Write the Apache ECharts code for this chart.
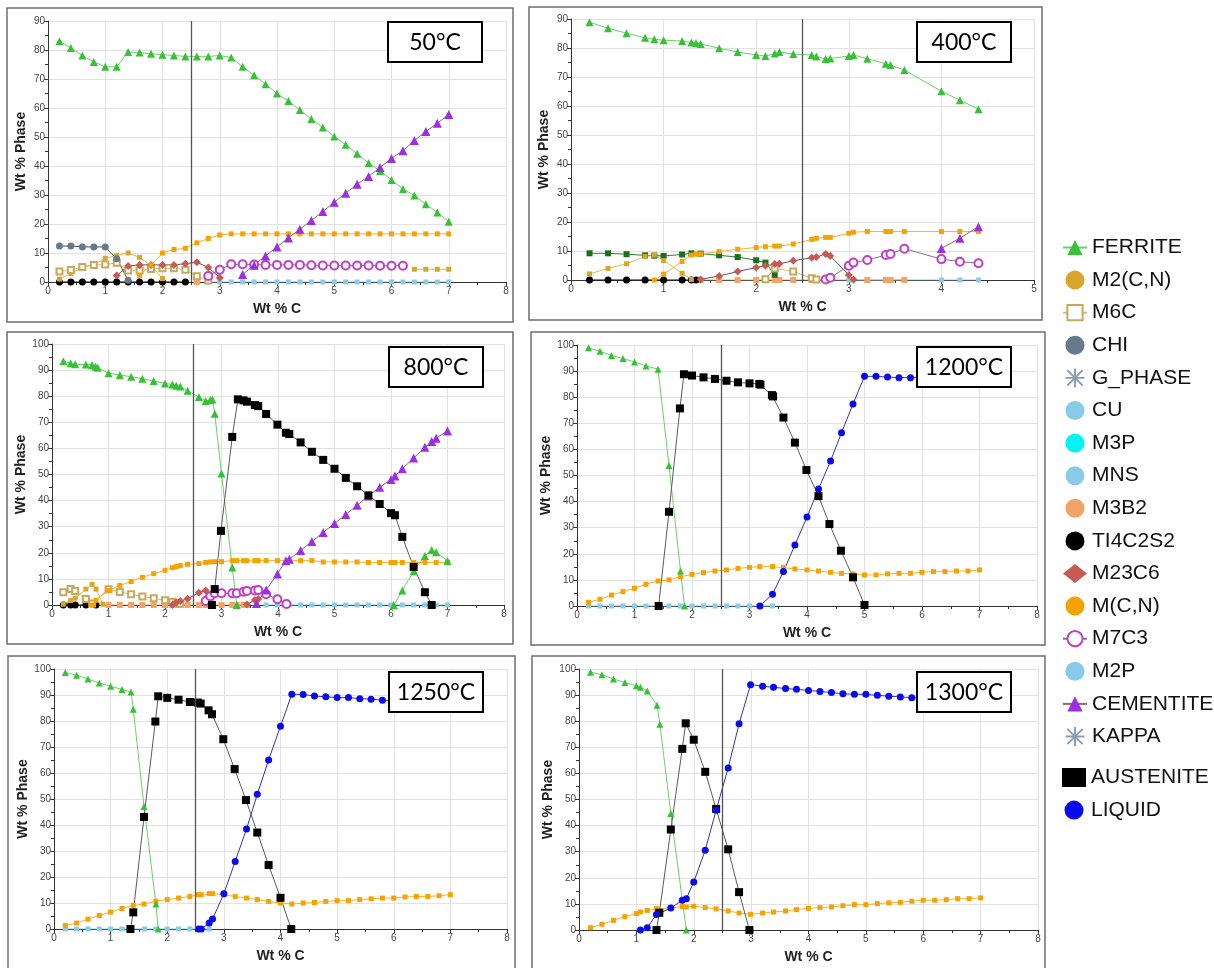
<!DOCTYPE html>
<html>
<head>
<meta charset="utf-8">
<script src="https://cdn.jsdelivr.net/npm/echarts/dist/echarts.min.js"></script>
<style>
  html, body { margin: 0; padding: 0; background: #fff; }
  #chart { width: 1214px; height: 968px; }
</style>
</head>
<body>
<div id="chart"></div>
<script>
// ---------- phase fractions (Wt % phase vs Wt % C) ----------

// 50 °C
const ferrite50 = [[0.2,83.0],[0.4,80.7],[0.6,78.1],[0.8,75.9],[1.0,74.2],[1.2,74.2],[1.4,79.3],[1.6,79.1],[1.8,78.7],[2.0,78.4],[2.2,78.1],[2.4,77.8],[2.6,77.8],[2.8,77.8],[3.0,78.1],[3.2,77.4],[3.4,74.2],[3.6,71.3],[3.8,68.2],[4.0,65.0],[4.2,62.4],[4.4,59.3],[4.6,56.2],[4.8,53.3],[5.0,50.2],[5.2,47.3],[5.4,44.2],[5.6,41.0],[5.8,38.3],[6.0,35.2],[6.2,32.1],[6.4,29.8],[6.6,26.8],[6.8,24.0],[7.0,20.8]];
const cementite50 = [[3.4,2.6],[3.6,5.8],[3.8,9.0],[4.0,12.1],[4.2,15.2],[4.4,18.2],[4.6,21.2],[4.8,24.3],[5.0,27.5],[5.2,30.6],[5.4,33.7],[5.6,36.4],[5.8,39.5],[6.0,42.6],[6.2,45.3],[6.4,48.8],[6.6,51.9],[6.8,54.7],[7.0,57.8]];
const mcn50 = [[1.6,2.3],[1.8,5.9],[2.0,10.0],[2.2,11.2],[2.4,11.6],[2.6,13.5],[2.8,15.0],[3.0,16.2],[3.2,16.6],[3.4,16.6],[3.6,16.6],[3.8,16.6],[4.0,16.6],[4.2,16.6],[4.4,16.6],[4.6,16.6],[4.8,16.6],[5.0,16.6],[5.2,16.6],[5.4,16.6],[5.6,16.6],[5.8,16.6],[6.0,16.6],[6.2,16.6],[6.4,16.6],[6.6,16.6],[6.8,16.6],[7.0,16.6]];
const m2cn50 = [[0.2,1.0],[0.4,2.9],[0.6,5.0],[0.8,6.0],[1.0,8.2],[1.2,9.1],[1.4,10.0],[1.6,8.5],[1.8,5.6],[2.0,1.2]];
const m2cn50b = [[6.4,4.4],[6.6,4.4],[6.8,4.4],[7.0,4.4]];
const m6c50 = [[0.2,3.6],[0.4,4.1],[0.6,5.2],[0.8,5.9],[1.0,6.0],[1.2,6.6],[1.4,4.0],[1.6,4.0],[1.8,4.5],[2.0,4.7],[2.2,4.7],[2.4,4.2],[2.6,2.0],[2.8,0.5]];
const chi50 = [[0.2,12.4],[0.4,12.4],[0.6,12.1],[0.8,12.1],[1.0,12.1],[1.2,8.0],[1.4,0.6]];
const m23c6_50 = [[1.2,2.2],[1.4,5.5],[1.6,5.9],[1.8,5.9],[2.0,5.9],[2.2,5.9],[2.4,6.3],[2.6,6.8],[2.8,5.0],[3.0,1.5]];
const m7c3_50 = [[2.8,2.1],[3.0,4.2],[3.2,6.1],[3.4,6.1],[3.6,6.0],[3.8,5.9],[4.0,5.9],[4.2,5.9],[4.4,5.9],[4.6,5.8],[4.8,5.7],[5.0,5.7],[5.2,5.7],[5.4,5.7],[5.6,5.7],[5.8,5.6],[6.0,5.6],[6.2,5.6]];
const ti50x = [0.2,0.4,0.6,0.8,1.0,1.2,1.4,1.6,1.8,2.0,2.2,2.4];
const m3b2_50x = [2.6];
const mns50x = [2.8,3.0,3.2,3.4,3.6,3.8,4.0,4.2,4.4,4.6,4.8,5.0,5.2,5.4,5.6,5.8,6.0,6.2,6.4,6.6,6.8,7.0];

// 400 °C
const ferrite400 = [[0.2,88.9],[0.4,86.8],[0.6,85.1],[0.8,83.5],[0.9,83.0],[1.0,82.7],[1.2,82.4],[1.3,81.9],[1.35,81.7],[1.4,81.4],[1.6,79.9],[1.8,78.6],[2.0,77.6],[2.1,77.2],[2.2,78.1],[2.25,78.6],[2.4,77.9],[2.6,77.6],[2.65,77.1],[2.75,76.2],[2.8,76.4],[3.0,77.2],[3.05,77.6],[3.2,76.3],[3.4,74.6],[3.45,74.1],[3.6,72.4],[4.0,65.1],[4.2,62.0],[4.4,58.9]];
const m2cn400 = [[0.2,2.1],[0.4,4.0],[0.6,5.6],[0.8,8.1],[0.9,8.6],[1.0,6.7],[1.2,2.3],[1.3,0.2]];
const mcn400 = [[0.9,0],[1.0,2.0],[1.2,6.4],[1.3,8.6],[1.35,8.9],[1.4,9.0],[1.6,9.8],[1.8,10.6],[2.0,11.2],[2.1,11.5],[2.2,11.7],[2.25,11.7],[2.4,12.4],[2.6,14.0],[2.65,14.4],[2.75,14.7],[2.8,14.7],[3.0,16.1],[3.05,16.5],[3.2,16.7],[3.4,16.7],[3.45,16.7],[3.6,16.7],[4.0,16.7],[4.2,16.7],[4.4,16.7]];
const other400 = [[0.2,9.2],[0.4,9.2],[0.6,8.9],[0.8,8.5],[0.9,8.4],[1.0,8.3],[1.2,8.8],[1.3,9.2],[1.4,9.1],[1.6,8.5],[1.8,7.9],[2.0,6.8],[2.1,6.0],[2.2,1.8]];
const m6c400 = [[2.1,0.3],[2.2,4.0],[2.4,2.9],[2.6,0.6],[2.65,0.2]];
const m23c6_400 = [[1.4,0.2],[1.6,1.4],[1.8,2.9],[2.0,4.3],[2.1,4.9],[2.2,5.5],[2.25,5.6],[2.4,6.6],[2.6,7.7],[2.65,7.9],[2.75,9.0],[2.8,8.3],[3.0,1.7],[3.05,0.2]];
const m7c3_400 = [[2.75,0.2],[2.8,0.8],[3.0,4.9],[3.05,6.0],[3.2,6.9],[3.4,8.6],[3.45,9.0],[3.6,10.8],[4.0,7.2],[4.2,6.3],[4.4,5.8]];
const cementite400 = [[4.0,10.9],[4.2,14.4],[4.4,18.4]];
const ti400x = [0.2,0.4,0.6,0.8,1.0,1.2,1.3,1.35];
const m3b2_400x = [1.4,1.6,1.8,2.0,2.1,2.2,2.25,2.4,2.6,2.65,3.2,3.4,3.45,3.6];
const mns400x = [3.0,3.05,3.2,3.4,3.45,3.6,4.0,4.2,4.4];

// 800 °C
const ferrite800 = [[0.2,93.4],[0.33,92.6],[0.41,92.2],[0.6,92.1],[0.71,92.0],[0.77,91.3],[0.81,90.9],[1.0,88.8],[1.2,88.1],[1.4,87.5],[1.6,86.7],[1.8,85.8],[2.0,84.9],[2.13,84.5],[2.2,84.0],[2.27,83.7],[2.4,82.1],[2.6,79.7],[2.72,78.2],[2.8,78.5],[2.84,78.7],[2.88,73.3],[3.0,50.4],[3.19,14.4],[3.27,0]];
const ferrite800b = [[6.05,0],[6.2,5.6],[6.4,12.9],[6.6,18.8],[6.72,21.1],[6.8,20.2],[7.0,16.9]];
const austenite800 = [[2.83,0],[2.88,6.1],[2.99,28.4],[3.19,64.4],[3.29,78.8],[3.39,78.4],[3.45,77.9],[3.59,76.6],[3.65,76.2],[3.79,73.2],[3.99,69.1],[4.14,66.0],[4.2,65.5],[4.4,62.3],[4.6,58.7],[4.8,55.6],[5.0,52.2],[5.2,48.7],[5.4,45.5],[5.6,42.0],[5.8,38.7],[6.0,35.2],[6.07,34.4],[6.2,26.1],[6.4,14.6],[6.6,4.9],[6.72,0]];
const cementite800 = [[3.62,0.6],[3.79,5.7],[3.99,11.9],[4.14,17.0],[4.2,17.5],[4.4,20.9],[4.6,24.3],[4.8,27.8],[5.0,31.2],[5.2,34.7],[5.4,38.2],[5.6,41.8],[5.8,45.1],[6.0,48.1],[6.07,49.4],[6.2,52.2],[6.4,56.3],[6.6,60.4],[6.72,62.6],[6.8,63.9],[7.0,66.7]];
const mcn800 = [[0.71,0],[0.78,1.8],[1.0,5.6],[1.2,7.5],[1.4,9.0],[1.6,10.6],[1.8,12.0],[2.0,13.3],[2.13,14.3],[2.2,14.7],[2.27,15.1],[2.4,15.6],[2.6,15.9],[2.72,16.3],[2.8,16.5],[2.88,16.6],[3.0,16.6],[3.19,17.0],[3.27,17.0],[3.39,17.0],[3.45,17.0],[3.59,17.0],[3.65,17.0],[3.79,17.0],[3.99,17.0],[4.2,17.0],[4.4,17.0],[4.6,17.0],[4.8,16.5],[5.0,16.5],[5.2,16.5],[5.4,16.5],[5.6,16.3],[5.8,16.3],[6.0,16.3],[6.07,16.3],[6.2,16.3],[6.4,16.3],[6.6,16.3],[6.8,16.3],[7.0,16.3]];
const m2cn800 = [[0.2,0.3],[0.33,1.7],[0.41,2.6],[0.6,6.1],[0.71,7.9],[0.78,6.1],[0.9,0.3]];
const m6c800 = [[0.2,4.9],[0.33,6.1],[0.41,5.4],[0.6,2.3],[0.71,0.6],[1.0,6.0],[1.2,5.0],[1.4,4.1],[1.6,3.3],[1.8,2.6],[2.0,1.8],[2.13,1.2],[2.2,0.8],[2.27,0.5]];
const m23c6_800 = [[2.13,0],[2.2,1.0],[2.27,1.5],[2.4,2.4],[2.6,4.7],[2.72,5.6],[2.8,3.4],[2.84,0.4]];
const m23c6_800b = [[3.45,0.2],[3.59,1.9],[3.65,2.3]];
const m7c3_800 = [[2.72,1.5],[2.8,3.4],[2.88,4.5],[3.0,4.5],[3.19,4.5],[3.27,4.5],[3.39,5.1],[3.45,5.4],[3.59,5.6],[3.65,5.7],[3.79,4.1],[3.99,2.2],[4.15,0.4]];
const ti800x = [0.2,0.33,0.41,0.6,0.78];
const m3b2_800x = [1.0,1.2,1.4,1.6,1.8,2.0,2.13,2.2,2.27,2.4,2.6,2.72,2.8,3.0,3.19,3.27,3.39,3.45];
const mns800x = [3.79,3.99,4.2,4.4,4.6,4.8,5.0,5.2,5.4,5.6,5.8,6.0,6.2,6.4,6.6,6.8,7.0];

// 1200 °C
const ferrite1200 = [[0.2,98.9],[0.4,97.6],[0.6,96.0],[0.8,94.8],[1.0,93.5],[1.2,92.0],[1.41,90.7],[1.6,53.8],[1.8,13.4],[1.87,0]];
const austenite1200 = [[1.42,0],[1.6,36.1],[1.79,75.7],[1.86,88.8],[2.0,88.3],[2.2,87.6],[2.4,87.0],[2.6,86.3],[2.8,85.7],[3.0,85.3],[3.17,85.1],[3.19,84.8],[3.39,80.8],[3.41,80.3],[3.59,72.2],[3.79,62.6],[3.99,52.1],[4.2,42.1],[4.39,31.4],[4.59,21.2],[4.8,11.0],[5.0,0.4]];
const liquid1200 = [[3.18,0],[3.4,4.5],[3.59,13.2],[3.79,23.4],[4.0,34.1],[4.2,44.8],[4.41,55.6],[4.6,66.4],[4.8,77.4],[5.0,88.0],[5.2,88.0],[5.4,87.7],[5.6,87.5],[5.8,87.5],[6.0,87.4],[6.2,87.3],[6.4,87.2],[6.6,87.1],[6.8,87.0],[7.0,86.9]];
const mcn1200 = [[0.2,1.4],[0.4,2.6],[0.6,4.2],[0.8,5.5],[1.0,6.8],[1.2,8.3],[1.41,9.6],[1.6,10.0],[1.8,11.2],[2.0,12.1],[2.2,12.8],[2.4,13.4],[2.6,13.8],[2.8,14.4],[3.0,14.8],[3.18,15.1],[3.4,15.1],[3.59,14.7],[3.79,14.2],[4.0,13.8],[4.2,13.4],[4.41,12.9],[4.6,12.5],[4.8,12.3],[5.0,11.9],[5.2,11.9],[5.4,12.3],[5.6,12.5],[5.8,12.5],[6.0,12.9],[6.2,13.2],[6.4,13.2],[6.6,13.4],[6.8,13.4],[7.0,13.8]];
const mns1200x = [0.2,0.4,0.6,0.8,1.0,1.2,1.4,1.6,1.8,2.0,2.2,2.4,2.6,2.8,3.0,3.2,3.4];

// 1250 °C
const ferrite1250 = [[0.2,98.7],[0.4,97.6],[0.6,96.2],[0.8,94.6],[1.0,93.4],[1.2,92.1],[1.36,91.2],[1.4,84.5],[1.59,47.1],[1.8,9.6],[1.84,0]];
const austenite1250 = [[1.35,0],[1.4,6.4],[1.59,43.1],[1.79,79.8],[1.84,89.5],[2.0,88.9],[2.2,88.2],[2.4,87.3],[2.54,87.1],[2.59,86.7],[2.73,84.1],[2.79,82.6],[2.99,73.0],[3.19,61.5],[3.39,49.6],[3.59,37.1],[3.79,24.6],[4.0,12.0],[4.19,0]];
const liquid1250 = [[2.55,0],[2.6,0],[2.74,2.3],[2.8,3.8],[3.0,13.6],[3.2,26.0],[3.4,38.5],[3.59,51.8],[3.79,65.0],[4.0,78.0],[4.2,90.3],[4.4,90.2],[4.6,89.6],[4.8,89.3],[5.0,89.0],[5.2,89.0],[5.4,88.6],[5.6,88.4],[5.8,88.0],[6.0,87.8],[6.2,87.6],[6.4,87.4],[6.6,87.2],[6.8,87.0],[7.0,86.8]];
const mcn1250 = [[0.2,1.3],[0.4,2.3],[0.6,3.8],[0.8,5.2],[1.0,6.5],[1.2,7.9],[1.4,9.1],[1.59,9.6],[1.8,10.7],[2.0,11.3],[2.2,11.9],[2.4,12.5],[2.55,13.2],[2.6,13.2],[2.74,13.6],[2.8,13.6],[3.0,13.2],[3.2,12.5],[3.4,11.9],[3.59,11.3],[3.79,10.6],[4.0,10.0],[4.2,9.6],[4.4,10.0],[4.6,10.2],[4.8,10.6],[5.0,10.9],[5.2,10.9],[5.4,11.3],[5.6,11.6],[5.8,11.9],[6.0,11.9],[6.2,12.3],[6.4,12.5],[6.6,12.5],[6.8,12.8],[7.0,13.2]];
const mns1250x = [0.2,0.4,0.6,0.8,1.0,1.2,1.6,1.8,2.0,2.2,2.4,2.6,2.74];

// 1300 °C
const ferrite1300 = [[0.2,98.8],[0.4,97.8],[0.6,96.2],[0.8,94.8],[1.0,93.6],[1.07,93.0],[1.19,91.6],[1.36,86.1],[1.41,78.8],[1.6,44.6],[1.87,0]];
const austenite1300 = [[1.35,0],[1.4,6.6],[1.6,38.5],[1.8,69.4],[1.86,79.2],[2.0,72.9],[2.2,60.6],[2.39,46.4],[2.6,30.9],[2.79,14.5],[2.97,0]];
const liquid1300 = [[1.07,0],[1.19,0.9],[1.35,5.9],[1.6,8.4],[1.8,11.4],[1.87,12.0],[2.0,18.4],[2.2,30.6],[2.39,45.9],[2.6,62.1],[2.79,79.0],[2.99,94.0],[3.2,93.4],[3.39,93.0],[3.6,92.5],[3.79,92.2],[4.0,91.8],[4.2,91.4],[4.4,91.0],[4.6,90.5],[4.8,90.3],[5.0,90.3],[5.2,89.9],[5.4,89.6],[5.6,89.3],[5.8,89.0],[6.0,88.8],[6.2,88.6],[6.4,88.4],[6.6,88.2],[6.8,88.0],[7.0,87.8]];
const mcn1300 = [[0.2,0.9],[0.4,2.2],[0.6,3.7],[0.8,5.1],[1.0,6.3],[1.07,6.9],[1.19,7.5],[1.35,8.2],[1.6,8.4],[1.8,9.0],[1.87,8.8],[2.0,9.1],[2.2,8.6],[2.39,8.1],[2.6,7.3],[2.79,6.5],[2.99,6.0],[3.2,6.5],[3.39,6.9],[3.6,7.3],[3.79,7.8],[4.0,8.3],[4.2,8.6],[4.4,8.8],[4.6,9.3],[4.8,9.7],[5.0,9.7],[5.2,10.1],[5.4,10.4],[5.6,10.6],[5.8,11.0],[6.0,11.4],[6.2,11.4],[6.4,11.6],[6.6,12.0],[6.8,12.0],[7.0,12.3]];

// panel titles, axis ranges, legend entries
const temps = ['50°C', '400°C', '800°C', '1200°C', '1250°C', '1300°C'];
const xMaxes = [8, 5, 8, 8, 8, 8];
const yMaxes = [90, 90, 100, 100, 100, 100];
const legendMain = ['FERRITE','M2(C,N)','M6C','CHI','G_PHASE','CU','M3P','MNS','M3B2','TI4C2S2','M23C6','M(C,N)','M7C3','M2P','CEMENTITE','KAPPA'];
const legendLower = ['AUSTENITE','LIQUID'];

// ---------- styling ----------
const STYLE = {
  'FERRITE':   { symbol: 'triangle',    size: 8, color: '#36c236', line: '#6ccf6c' },
  'CEMENTITE': { symbol: 'triangle',    size: 9, color: '#9b2fe3', line: '#9a6272' },
  'AUSTENITE': { symbol: 'rect',        size: 8, color: '#000000', line: '#5a5a5a' },
  'LIQUID':    { symbol: 'circle',      size: 7, color: '#0a0aee', line: '#3434a8' },
  'M(C,N)':    { symbol: 'rect',        size: 5, color: '#f6a300', line: '#f2b23a' },
  'M2(C,N)':   { symbol: 'rect',        size: 5, color: '#d9a62c', line: '#dcb854' },
  'M6C':       { symbol: 'emptyRect',   size: 6, color: '#c9a85c', line: '#d4bc74', bw: 1.2 },
  'CHI':       { symbol: 'circle',      size: 7, color: '#667a8e', line: '#4a4a4a' },
  'M23C6':     { symbol: 'diamond',     size: 8, color: '#c85a55', line: '#5a5a5a' },
  'M7C3':      { symbol: 'emptyCircle', size: 8, color: '#c23ec8', line: '#7a7a7a', bw: 1.2 },
  'TI4C2S2':   { symbol: 'circle',      size: 7, color: '#000000', line: '#000000' },
  'M3B2':      { symbol: 'rect',        size: 6, color: '#f2a468', line: '#f2a468' },
  'MNS':       { symbol: 'rect',        size: 5, color: '#8ccbe6', line: '#8ccbe6' },
  'CU':        { symbol: 'circle',      size: 6, color: '#87cbe8', line: '#87cbe8' },
  'M3P':       { symbol: 'circle',      size: 6, color: '#00f4f4', line: '#00f4f4' },
  'M2P':       { symbol: 'circle',      size: 6, color: '#87cbe8', line: '#87cbe8' },
  'G_PHASE':   { symbol: 'circle',      size: 6, color: '#8a9bb5', line: '#8a9bb5' },
  'KAPPA':     { symbol: 'circle',      size: 6, color: '#8a9bb5', line: '#8a9bb5' },
  'OTHER':     { symbol: 'rect',        size: 6, color: '#17701a', line: '#2e7d30' }
};

const asterisk = 'path://M9,0L11,0L11,20L9,20Z M0,9L20,9L20,11L0,11Z M2.6,1.2L18.8,17.4L17.4,18.8L1.2,2.6Z M17.4,1.2L18.8,2.6L2.6,18.8L1.2,17.4Z';
const LEGEND_ICON = {
  'FERRITE': 'inherit', 'M6C': 'inherit', 'M7C3': 'inherit', 'CEMENTITE': 'inherit',
  'M23C6': 'diamond', 'AUSTENITE': 'rect', 'G_PHASE': asterisk, 'KAPPA': asterisk
};

const refLine = {
  silent: true, symbol: ['none', 'none'], label: { show: false },
  lineStyle: { color: '#555', width: 1.3, type: 'solid' },
  data: [{ xAxis: 2.5 }]
};

function ser(name, g, data, extra) {
  const s = STYLE[name];
  return Object.assign({
    type: 'line', name, xAxisIndex: g, yAxisIndex: g, data,
    symbol: s.symbol, symbolSize: s.size, showSymbol: true, showAllSymbol: true,
    itemStyle: { color: s.color, borderColor: s.color, borderWidth: s.bw || 0 },
    lineStyle: { color: s.line, width: 1 },
    emphasis: { disabled: true }, animation: false
  }, extra || {});
}
const zeros = xs => xs.map(x => [x, 0]);

// ---------- layout of the six panels ----------
const gridBoxes = [
  { left: 48,  top: 21,  width: 458, height: 261 },
  { left: 571, top: 19,  width: 463, height: 261 },
  { left: 52,  top: 344, width: 452, height: 261 },
  { left: 577, top: 345, width: 460, height: 261 },
  { left: 54,  top: 669, width: 453, height: 260 },
  { left: 579, top: 669, width: 459, height: 261 }
];
const frames = [
  { x: 7,   y: 8,   w: 506, h: 314 },
  { x: 529, y: 7,   w: 513, h: 313 },
  { x: 7,   y: 332, w: 506, h: 312 },
  { x: 531, y: 332, w: 514, h: 313 },
  { x: 8,   y: 656, w: 507, h: 330 },
  { x: 532, y: 656, w: 513, h: 330 }
];
const tempBoxes = [
  { x: 388, y: 22 }, { x: 917, y: 22 },
  { x: 389, y: 347 }, { x: 917, y: 347 },
  { x: 389, y: 672 }, { x: 917, y: 672 }
];

const font = "'Liberation Sans', Arial, sans-serif";
const axisCommon = {
  type: 'value',
  axisLine: { show: true, onZero: false, lineStyle: { color: '#333', width: 1 } },
  axisTick: { show: true, length: 4, lineStyle: { color: '#333' } },
  minorTick: { show: true, splitNumber: 2, length: 3, lineStyle: { color: '#333' } },
  splitLine: { show: true, lineStyle: { color: '#e2e2e2', width: 1 } },
  nameLocation: 'middle',
  nameTextStyle: { fontFamily: font, fontWeight: 'bold', fontSize: 14, color: '#222' }
};
const xAxes = gridBoxes.map((g, i) => Object.assign({}, axisCommon, {
  gridIndex: i, min: 0, max: xMaxes[i], interval: 1,
  name: 'Wt % C', nameGap: 20,
  axisLabel: { fontFamily: font, fontSize: 10, color: '#444', margin: 4 }
}));
const yAxes = gridBoxes.map((g, i) => Object.assign({}, axisCommon, {
  gridIndex: i, min: 0, max: yMaxes[i], interval: 10,
  name: 'Wt % Phase', nameGap: 20,
  axisLabel: { fontFamily: font, fontSize: 10, color: '#444', margin: 3 }
}));

// ---------- series ----------
const series = [
  // 50 °C
  ser('MNS', 0, zeros(mns50x)),
  ser('M3B2', 0, zeros(m3b2_50x)),
  ser('TI4C2S2', 0, zeros(ti50x)),
  ser('M2(C,N)', 0, m2cn50),
  ser('M2(C,N)', 0, m2cn50b),
  ser('M6C', 0, m6c50),
  ser('CHI', 0, chi50),
  ser('M23C6', 0, m23c6_50),
  ser('M7C3', 0, m7c3_50),
  ser('M(C,N)', 0, mcn50, { markLine: refLine }),
  ser('FERRITE', 0, ferrite50),
  ser('CEMENTITE', 0, cementite50),
  // legend-only phases (no amount in these sections)
  ser('G_PHASE', 0, []), ser('CU', 0, []), ser('M3P', 0, []), ser('M2P', 0, []), ser('KAPPA', 0, []),

  // 400 °C
  ser('MNS', 1, zeros(mns400x)),
  ser('M3B2', 1, zeros(m3b2_400x)),
  ser('TI4C2S2', 1, zeros(ti400x)),
  ser('OTHER', 1, other400),
  ser('M2(C,N)', 1, m2cn400),
  ser('M6C', 1, m6c400),
  ser('M23C6', 1, m23c6_400),
  ser('M7C3', 1, m7c3_400),
  ser('M(C,N)', 1, mcn400, { markLine: refLine }),
  ser('FERRITE', 1, ferrite400),
  ser('CEMENTITE', 1, cementite400),

  // 800 °C
  ser('MNS', 2, zeros(mns800x)),
  ser('M3B2', 2, zeros(m3b2_800x)),
  ser('TI4C2S2', 2, zeros(ti800x)),
  ser('M2(C,N)', 2, m2cn800),
  ser('M6C', 2, m6c800),
  ser('M23C6', 2, m23c6_800),
  ser('M23C6', 2, m23c6_800b),
  ser('M7C3', 2, m7c3_800),
  ser('M(C,N)', 2, mcn800, { markLine: refLine }),
  ser('FERRITE', 2, ferrite800),
  ser('FERRITE', 2, ferrite800b),
  ser('CEMENTITE', 2, cementite800),
  ser('AUSTENITE', 2, austenite800),

  // 1200 °C
  ser('MNS', 3, zeros(mns1200x)),
  ser('M(C,N)', 3, mcn1200, { markLine: refLine }),
  ser('FERRITE', 3, ferrite1200, { symbolSize: 7 }),
  ser('AUSTENITE', 3, austenite1200),
  ser('LIQUID', 3, liquid1200),

  // 1250 °C
  ser('MNS', 4, zeros(mns1250x)),
  ser('M(C,N)', 4, mcn1250, { markLine: refLine }),
  ser('FERRITE', 4, ferrite1250, { symbolSize: 7 }),
  ser('AUSTENITE', 4, austenite1250),
  ser('LIQUID', 4, liquid1250),

  // 1300 °C
  ser('M(C,N)', 5, mcn1300, { markLine: refLine }),
  ser('FERRITE', 5, ferrite1300, { symbolSize: 7 }),
  ser('AUSTENITE', 5, austenite1300),
  ser('LIQUID', 5, liquid1300)
];

// ---------- legend ----------
const legendItem = name => {
  const icon = LEGEND_ICON[name] || 'circle';
  return icon === 'inherit' ? { name } : { name, icon };
};
const legendCommon = {
  orient: 'vertical', left: 1057, itemWidth: 24, itemHeight: 19, itemGap: 11.6,
  selectedMode: false, symbolKeepAspect: true,
  textStyle: { fontFamily: font, fontSize: 21, color: '#111' }
};

// ---------- frames and temperature labels ----------
const graphics = [];
frames.forEach(f => graphics.push({
  type: 'rect', z: 0, silent: true,
  shape: { x: f.x, y: f.y, width: f.w, height: f.h },
  style: { fill: 'none', stroke: '#6e6e6e', lineWidth: 1.5 }
}));
tempBoxes.forEach((b, i) => {
  graphics.push({
    type: 'rect', z: 100, silent: true,
    shape: { x: b.x, y: b.y, width: 94, height: 40 },
    style: { fill: '#fff', stroke: '#000', lineWidth: 2 }
  });
  graphics.push({
    type: 'text', z: 101, silent: true, x: b.x + 47, y: b.y + 21,
    style: { text: temps[i], fill: '#000', font: "23px Lato, 'Liberation Sans', sans-serif",
             textAlign: 'center', textVerticalAlign: 'middle' }
  });
});

const chart = echarts.init(document.getElementById('chart'), null, { renderer: 'canvas' });
chart.setOption({
  animation: false,
  backgroundColor: '#fff',
  grid: gridBoxes,
  xAxis: xAxes,
  yAxis: yAxes,
  legend: [
    Object.assign({}, legendCommon, { top: 232, data: legendMain.map(legendItem) }),
    Object.assign({}, legendCommon, { top: 762, data: legendLower.map(legendItem) })
  ],
  graphic: graphics,
  series
});
</script>
</body>
</html>
